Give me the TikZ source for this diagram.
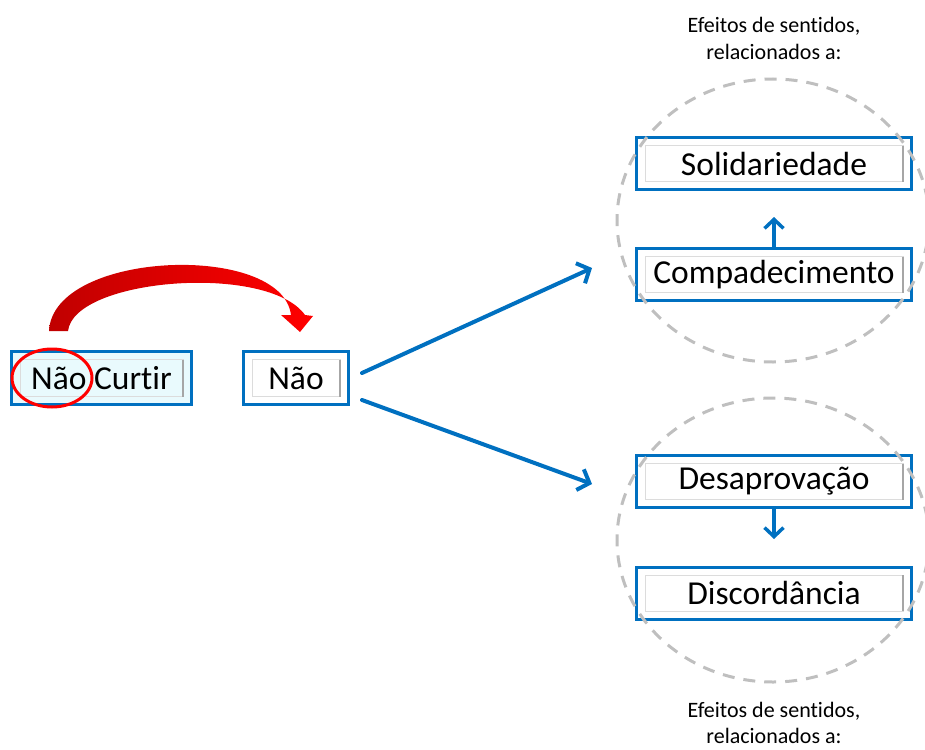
\documentclass[tikz,border=0pt]{standalone}
\usepackage{fontspec}
\setmainfont[RawFeature={-liga}]{Carlito}
\usetikzlibrary{arrows.meta}
\definecolor{mblue}{HTML}{0070C0}
\definecolor{ingray}{HTML}{DCDCDC}
\definecolor{indark}{HTML}{A6A6A6}
\definecolor{cyanfill}{HTML}{E9FAFD}
\definecolor{dashgray}{HTML}{BFBFBF}
\definecolor{darkred}{HTML}{C00000}
\tikzset{
  wbox/.style={draw=mblue, line width=3pt, fill=white, rectangle, inner sep=0pt,
    minimum height=52pt, font=\fontsize{33.5}{38}\selectfont,
    path picture={
      \draw[line width=1pt, ingray]
        ([xshift=8.5pt,yshift=-8pt]path picture bounding box.north west) rectangle
        ([xshift=-8.5pt,yshift=8pt]path picture bounding box.south east);
      \draw[line width=1.3pt, indark]
        ([xshift=-8.5pt,yshift=-8pt]path picture bounding box.north east) --
        ([xshift=-8.5pt,yshift=8pt]path picture bounding box.south east);
    }},
  barrow/.style={draw=mblue, line width=4pt, line cap=round,
    -{Straight Barb[length=10pt,width=22pt,line width=4pt]}},
  sarrow/.style={draw=mblue, line width=3.5pt,
    -{Straight Barb[length=9pt,width=19pt,line width=3.5pt]}},
  circ/.style={draw=dashgray, line width=3pt, dash pattern=on 12pt off 9pt},
  caption/.style={font=\fontsize{22}{27}\selectfont, anchor=base, inner sep=0pt, text=black}
}
\begin{document}
\begin{tikzpicture}[x=1pt,y=-1pt]
\useasboundingbox (0,0) rectangle (925,749);
% left boxes
\node[wbox, fill=cyanfill, minimum width=180pt, minimum height=53pt] (nc) at (101.5,378) {Não Curtir};
\node[wbox, minimum width=105pt, minimum height=53pt] (nao) at (296,378) {Não};
\draw[red, line width=3pt] (52,378) ellipse [x radius=40, y radius=29];
% right boxes
\node[wbox, minimum width=275pt] (sol) at (774,163.5) {Solidariedade};
\node[wbox, minimum width=275pt] (comp) at (774,274.5) {Compadecimento};
\node[wbox, minimum width=275pt] (desa) at (774,481.5) {Desaprovação};
\node[wbox, minimum width=275pt] (disc) at (774,593) {Discordância};
% red curved arrow
\shade[left color=darkred, right color=red]
  (49,331) .. controls (53,250) and (282,242) .. (291,315)
  -- (281,315) -- (300,332) -- (313,316) -- (305,315)
  .. controls (268,263) and (74,278) .. (68,331) -- cycle;
% blue arrows
\coordinate (a1s) at (362,373);
\coordinate (a1e) at (592,268);
\coordinate (a2s) at (362,400);
\coordinate (a2e) at (592,484);
\draw[barrow] (a1s) -- (a1e);
\draw[barrow] (a2s) -- (a2e);
\coordinate (upend) at (774,217);
\coordinate (downend) at (774,539);
\draw[sarrow] (comp.north) -- (upend);
\draw[sarrow] (desa.south) -- (downend);
% dashed circles
\draw[circ] (773,220.5) ellipse [x radius=156, y radius=141.5];
\draw[circ] (773,540) ellipse [x radius=156, y radius=142];
% captions
\node[caption] (t1) at (774,33) {Efeitos de sentidos,};
\node[caption] (t2) at (774,60) {relacionados a:};
\node[caption] (b1) at (774,717) {Efeitos de sentidos,};
\node[caption] (b2) at (774,743) {relacionados a:};
\end{tikzpicture}
\end{document}
